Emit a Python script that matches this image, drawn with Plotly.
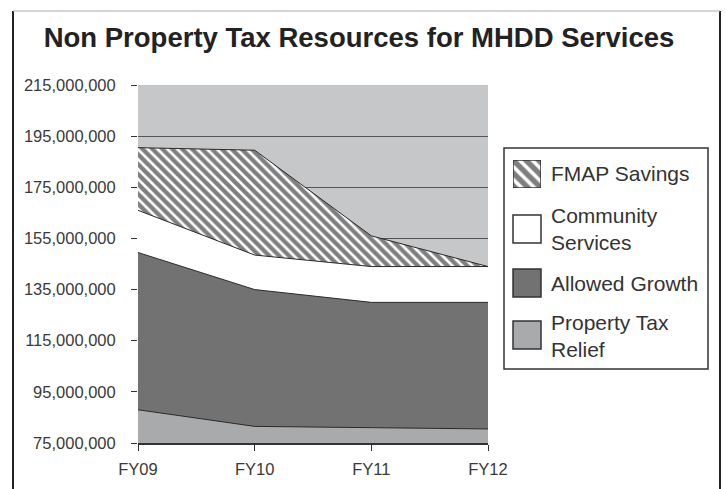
import plotly.graph_objects as go

years = ["FY09", "FY10", "FY11", "FY12"]
property_tax_relief = [88_000_000, 81_500_000, 81_000_000, 80_500_000]
allowed_growth = [61_500_000, 53_500_000, 49_000_000, 49_500_000]
community_services = [16_500_000, 13_500_000, 14_000_000, 14_000_000]
fmap_savings = [24_500_000, 41_000_000, 12_000_000, 0]
y_ticks = list(range(75_000_000, 215_000_001, 20_000_000))
legend_names = ["FMAP Savings", "Community<br>Services", "Allowed Growth", "Property Tax<br>Relief"]

W, H = 725, 489
def px(x):
    return x / W
def py(y):
    return 1 - y / H

PAT = dict(shape="\\", fgcolor="#000000", bgcolor="#ffffff", size=7, solidity=0.62)
PAT_SW = dict(shape="\\", fgcolor="#000000", bgcolor="#ffffff", size=9, solidity=0.6)
line = dict(color="#2a2a2a", width=1)
fig = go.Figure()
fig.add_trace(go.Scatter(x=years, y=property_tax_relief, name="Property Tax Relief",
                         stackgroup="s", line=line, fillcolor="#a9aaac", mode="lines",
                         showlegend=False))
fig.add_trace(go.Scatter(x=years, y=allowed_growth, name="Allowed Growth",
                         stackgroup="s", line=line, fillcolor="#727273", mode="lines",
                         showlegend=False))
fig.add_trace(go.Scatter(x=years, y=community_services, name="Community Services",
                         stackgroup="s", line=line, fillcolor="#ffffff", mode="lines",
                         showlegend=False))
fig.add_trace(go.Scatter(x=years, y=fmap_savings, name="FMAP Savings",
                         stackgroup="s", line=line, mode="lines", fillpattern=PAT,
                         showlegend=False))

# hatched legend swatch drawn on its own small axis
fig.add_trace(go.Scatter(x=[0, 1, 1, 0, 0], y=[0, 0, 1, 1, 0], xaxis="x2", yaxis="y2",
                         mode="lines", fill="toself", fillpattern=PAT_SW,
                         line=dict(color="#333333", width=1.5), showlegend=False,
                         hoverinfo="skip"))

shapes = [
    # outer frame
    dict(type="line", xref="paper", yref="paper", x0=px(13), x1=px(13), y0=0, y1=py(11),
         line=dict(color="#222222", width=2)),
    dict(type="line", xref="paper", yref="paper", x0=px(720), x1=px(720), y0=0, y1=py(11),
         line=dict(color="#222222", width=2)),
    dict(type="line", xref="paper", yref="paper", x0=px(13), x1=px(720), y0=py(11), y1=py(11),
         line=dict(color="#aaaaaa", width=1)),
    # legend box
    dict(type="rect", xref="paper", yref="paper", x0=px(504), x1=px(708), y0=py(369), y1=py(148),
         line=dict(color="#333333", width=1.5), fillcolor="rgba(0,0,0,0)"),
]
swatches = [(215, 243, "#ffffff"), (269, 297, "#727273"), (321, 349, "#a9aaac")]
for y0, y1, c in swatches:
    shapes.append(dict(type="rect", xref="paper", yref="paper", x0=px(513), x1=px(541),
                       y0=py(y1), y1=py(y0), fillcolor=c,
                       line=dict(color="#333333", width=1.5)))

text_y = [174, 229, 283, 336]
annotations = [dict(text=t, x=px(549), y=py(yy), xref="paper", yref="paper",
                    xanchor="left", yanchor="middle", showarrow=False, align="left",
                    font=dict(size=21, color="#333333"))
               for t, yy in zip(legend_names, text_y)]

fig.update_layout(
    width=W, height=H, autosize=False,
    paper_bgcolor="white", plot_bgcolor="#c6c7c9",
    margin=dict(l=0, r=0, t=0, b=0, pad=0, autoexpand=False),
    font=dict(family="Liberation Sans, Arial, sans-serif", color="#333333"),
    title=dict(text="<b>Non Property Tax Resources for MHDD Services</b>",
               x=px(359), xanchor="center", xref="paper", y=py(37), yref="paper",
               yanchor="middle", font=dict(size=27.5, color="#222222")),
    showlegend=False,
    xaxis=dict(domain=[px(138), px(488)], range=[0, 3], showgrid=False, ticks="outside",
               ticklen=6, tickcolor="#333333", showline=True, linecolor="#333333",
               linewidth=1.5, tickfont=dict(size=16.5, color="#3a3a3a"), zeroline=False,
               ticklabelstandoff=4, automargin=False),
    yaxis=dict(domain=[py(443), py(85)], range=[75_000_000, 215_000_000], tickvals=y_ticks,
               tickformat=",d", ticks="outside", ticklen=6, tickcolor="#333333",
               showgrid=True, gridcolor="#555555", gridwidth=1,
               showline=False, tickfont=dict(size=16.5, color="#3a3a3a"), zeroline=False,
               ticklabelstandoff=12, automargin=False),
    xaxis2=dict(domain=[px(513), px(541)], range=[0, 1], visible=False, fixedrange=True,
                automargin=False),
    yaxis2=dict(domain=[py(188), py(160)], range=[0, 1], visible=False, fixedrange=True,
                anchor="x2", automargin=False),
    shapes=shapes,
    annotations=annotations,
)
fig.write_html("out.html", config={"responsive": False, "displayModeBar": False},
               post_script="document.body.style.margin='0';")
